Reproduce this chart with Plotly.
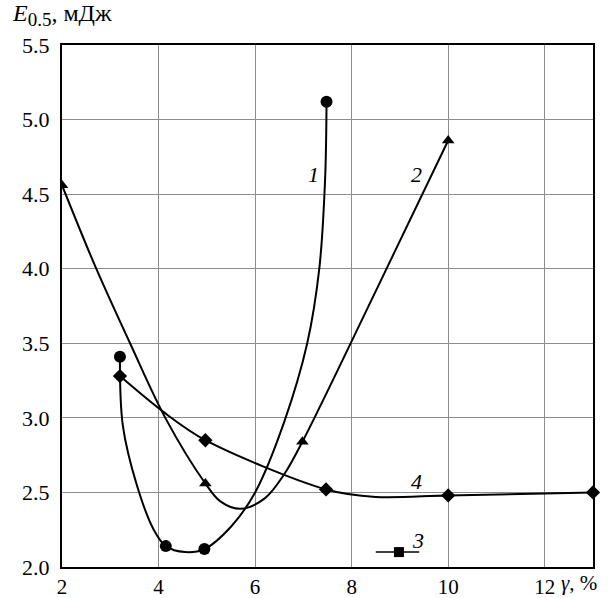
import plotly.graph_objects as go

# ---- measured points (markers) ----
c1_x = [3.2, 4.15, 4.95, 7.48]
c1_y = [3.41, 2.14, 2.12, 5.12]
c2_x = [2.0, 4.97, 6.98, 10.0]
c2_y = [4.56, 2.56, 2.84, 4.86]
c3_x = [8.98]
c3_y = [2.10]
c4_x = [3.2, 4.97, 7.47, 10.0, 13.0]
c4_y = [3.28, 2.85, 2.52, 2.48, 2.50]

# ---- fitted curves as drawn in the picture ----
f1_x = [3.2, 3.26, 3.55, 3.9, 4.15, 4.55, 4.95, 5.5, 6.0, 6.6, 7.08, 7.33, 7.45, 7.48]
f1_y = [3.41, 2.95, 2.55, 2.25, 2.14, 2.10, 2.12, 2.27, 2.5, 2.97, 3.5, 4.0, 4.6, 5.12]
f2_x = [2.0, 2.71, 3.41, 4.14, 4.97, 5.28, 5.7, 6.2, 6.6, 6.98, 8.5, 10.0]
f2_y = [4.56, 4.0, 3.5, 3.0, 2.56, 2.44, 2.39, 2.46, 2.62, 2.84, 3.85, 4.86]
f3_x = [8.5, 8.98, 9.4]
f3_y = [2.10, 2.10, 2.10]
f4_x = [3.2, 4.1, 4.97, 7.47, 8.5, 10.0, 13.0]
f4_y = [3.28, 3.04, 2.85, 2.52, 2.47, 2.48, 2.50]

x_ticks = [2, 4, 6, 8, 10, 12]
y_ticks = [2.0, 2.5, 3.0, 3.5, 4.0, 4.5, 5.0, 5.5]

curve_labels = ["1", "2", "3", "4"]
label_x = [7.2, 9.35, 9.38, 9.35]
label_y = [4.63, 4.63, 2.18, 2.57]

FONT = "Liberation Serif"

fig = go.Figure()
for fx, fy, sm, w in [(f1_x, f1_y, 1.0, 2), (f2_x, f2_y, 1.0, 2), (f3_x, f3_y, 0, 1.5), (f4_x, f4_y, 0.9, 2)]:
    fig.add_trace(go.Scatter(x=fx, y=fy, mode="lines",
                             line=dict(shape="spline" if sm else "linear", smoothing=sm or 1,
                                       color="black", width=w),
                             hoverinfo="skip"))

fig.add_trace(go.Scatter(x=c1_x, y=c1_y, mode="markers",
                         marker=dict(symbol="circle", size=12, color="black")))
fig.add_trace(go.Scatter(x=c2_x, y=c2_y, mode="markers",
                         marker=dict(symbol="triangle-up", size=11, color="black")))
fig.add_trace(go.Scatter(x=c3_x, y=c3_y, mode="markers",
                         marker=dict(symbol="square", size=10, color="black")))
fig.add_trace(go.Scatter(x=c4_x, y=c4_y, mode="markers",
                         marker=dict(symbol="diamond", size=11, color="black"),
                         cliponaxis=False))

for t, lx, ly in zip(curve_labels, label_x, label_y):
    fig.add_annotation(x=lx, y=ly, text="<i>%s</i>" % t, showarrow=False,
                       font=dict(family=FONT, size=22, color="black"))

fig.add_annotation(xref="paper", yref="paper", x=-0.097, y=1.024, xanchor="left", yanchor="bottom",
                   text="<i>E</i><sub><span style='font-size:19px'>0.5</span></sub>, мДж",
                   showarrow=False, font=dict(family=FONT, size=24, color="black"))
fig.add_annotation(xref="paper", yref="paper", x=0.936, y=-0.004, xanchor="left", yanchor="top",
                   text="<i>γ</i>, %", showarrow=False,
                   font=dict(family=FONT, size=21, color="black"))

fig.update_layout(
    width=615, height=598,
    margin=dict(l=62, r=22, t=45, b=31, autoexpand=False),
    paper_bgcolor="white", plot_bgcolor="white",
    showlegend=False,
    font=dict(family=FONT, size=22, color="black"),
)
fig.update_xaxes(range=[2, 13], tickvals=x_ticks, ticktext=[str(v) for v in x_ticks],
                 tickfont=dict(size=21),
                 showgrid=True, gridcolor="#8c8c8c", gridwidth=1,
                 showline=True, linecolor="black", linewidth=2, mirror=True, automargin=False,
                 ticks="", zeroline=False)
fig.update_yaxes(range=[2, 5.5], tickvals=y_ticks, ticktext=["%.1f" % v for v in y_ticks],
                 showgrid=True, gridcolor="#8c8c8c", gridwidth=1,
                 showline=True, linecolor="black", linewidth=2, mirror=True, automargin=False,
                 ticks="outside", ticklen=6, tickcolor="rgba(0,0,0,0)", zeroline=False)

fig.write_html("out.html")
